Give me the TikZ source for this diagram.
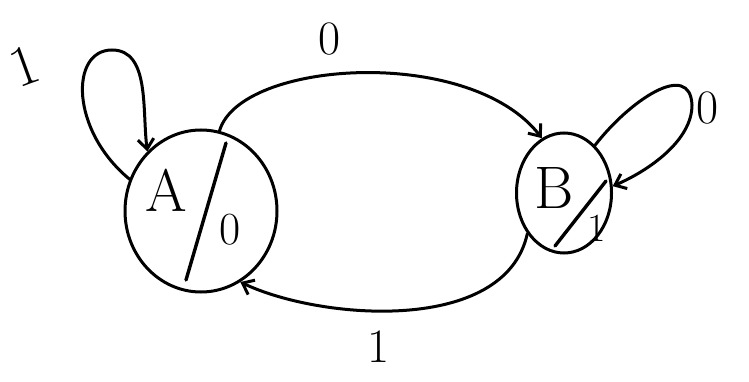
\documentclass[tikz,border=0pt]{standalone}
\usetikzlibrary{shapes.geometric,arrows.meta}
\begin{document}
\begin{tikzpicture}[x=1pt,y=-1pt,
  state/.style={ellipse,draw,line width=3pt,inner sep=0pt},
  edge/.style={line width=3pt,-{Straight Barb[length=10pt,width=16pt]},line cap=round},
  biglbl/.style={font=\fontsize{60}{60}\selectfont},
  dlbl/.style={font=\fontsize{48}{48}\selectfont},
  slash/.style={line width=3.4pt,line cap=round}]
\useasboundingbox (0,0) rectangle (749,382);
\node[state,minimum width=152pt,minimum height=162pt] (A) at (201,211) {};
\node[state,minimum width=95pt,minimum height=120pt] (B) at (564,193) {};
\draw[slash] (A.center) ++(25,-68) coordinate (a1) -- ++(-40,137) coordinate (a2);
\draw[slash] (B.center) ++(42,-12) coordinate (b1) -- ++(-51,65) coordinate (b2);
\node[biglbl] (Al) at (166,190) {A};
\node[font=\fontsize{46}{46}\selectfont] (Ao) at (230,230) {0};
\node[biglbl] (Bl) at (554,188) {B};
\node[font=\fontsize{40}{40}\selectfont] (Bo) at (597,228) {1};
% top arc A -> B
\draw[edge] (A.77) .. controls (240,60) and (470,45) .. (B.112);
\node[dlbl] (t0) at (330,39) {0};
% bottom arc B -> A
\draw[edge] (B.228) .. controls (505,335) and (320,320) .. (A.-61);
\node[dlbl] (b1l) at (379,347) {1};
% self loop A
\draw[edge] (A.156) .. controls (70,130) and (70,50) .. (112,50) .. controls (150,50) and (142,110) .. (A.132);
\node[font=\fontsize{58}{58}\selectfont,rotate=20] (la) at (24,66) {1};
% self loop B
\draw[edge] (B.57) .. controls (630,100) and (690,60) .. (692,105) .. controls (692,140) and (650,170) .. (B.8);
\node[dlbl] (lb) at (708,108) {0};
\end{tikzpicture}
\end{document}
